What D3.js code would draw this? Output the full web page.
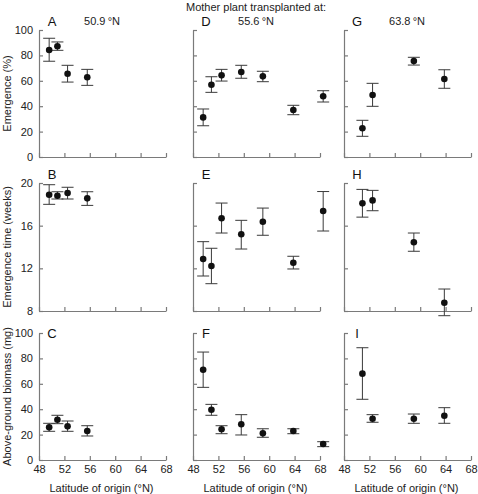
<!DOCTYPE html>
<html><head><meta charset="utf-8">
<script src="https://cdn.jsdelivr.net/npm/d3@7"></script>
<style>body{margin:0;background:#fff}svg{display:block;font-family:"Liberation Sans",Arial,sans-serif}</style>
</head><body><svg id="c" width="478" height="494"></svg>
<script>
// ---- data ----
const latCol1 = [49.6, 50.9, 52.5, 55.6];
const latCol2 = [49.6, 50.9, 52.5, 55.6, 59.0, 63.8, 68.5];
const latCol3 = [50.9, 52.5, 59.0, 63.8];

const xTicks = [48, 52, 56, 60, 64, 68];
const yTicksEmergence = [0, 20, 40, 60, 80, 100];
const yTicksTime = [8, 12, 16, 20];
const yTicksBiomass = [0, 20, 40, 60, 80, 100];

// Emergence (%)
const meanA = [84.3, 87.2, 65.6, 62.8];
const loA   = [75.4, 84.0, 59.0, 56.4];
const hiA   = [93.5, 90.6, 72.2, 69.0];
const meanD = [31.2, 56.9, 64.3, 66.9, 63.5, 37.0, 47.8];
const loD   = [24.6, 50.9, 59.8, 62.0, 59.3, 33.3, 43.3];
const hiD   = [37.8, 63.2, 69.0, 72.2, 67.5, 40.7, 52.2];
const meanG = [22.6, 48.8, 75.6, 61.4];
const loG   = [16.3, 39.9, 72.4, 54.1];
const hiG   = [28.9, 58.0, 78.5, 68.7];

// Emergence time (weeks)
const meanB = [18.9, 18.8, 19.06, 18.56];
const loB   = [18.0, 18.5, 18.5, 17.9];
const hiB   = [19.84, 19.18, 19.6, 19.18];
const meanE = [12.87, 12.22, 16.69, 15.19, 16.37, 12.53, 17.37];
const loE   = [11.28, 10.56, 15.31, 13.81, 15.1, 11.94, 15.5];
const hiE   = [14.5, 13.88, 18.12, 16.5, 17.65, 13.13, 19.2];
const meanH = [18.09, 18.37, 14.44, 8.78];
const loH   = [16.8, 17.4, 13.6, 7.56];
const hiH   = [19.4, 19.31, 15.31, 10.06];

// Above-ground biomass (mg)
const meanC = [25.7, 31.7, 26.5, 22.8];
const loC   = [22.6, 28.6, 22.6, 18.9];
const hiC   = [28.9, 35.2, 30.7, 27.0];
const meanF = [71.1, 39.6, 24.2, 28.1, 21.0, 22.8, 12.6];
const loF   = [57.2, 35.2, 20.7, 19.7, 17.9, 20.7, 10.5];
const hiF   = [85.0, 43.8, 27.0, 35.7, 24.6, 24.6, 14.4];
const meanI = [68.0, 32.5, 32.5, 34.9];
const loI   = [47.8, 29.7, 28.9, 28.9];
const hiI   = [88.4, 35.7, 36.2, 41.2];

const siteLabels = ["50.9\u2009°N", "55.6\u2009°N", "63.8\u2009°N"];
const rowTitles = ["Emergence (%)", "Emergence time (weeks)", "Above-ground biomass (mg)"];
const panelLetters = [["A","D","G"],["B","E","H"],["C","F","I"]];
const header = "Mother plant transplanted at:";
const xTitle = "Latitude of origin (°N)";

// ---- layout ----
const svg = d3.select("#c");
const colX = [39, 193, 344], colW = 127;
const rowY = [30, 183, 333], rowH = [127, 128, 127];
const axisCol = "#7a7a7a", barCol = "#3a3a3a";

const rows = [
  {domain:[0,100], ticks:yTicksEmergence, panels:[[latCol1,meanA,loA,hiA],[latCol2,meanD,loD,hiD],[latCol3,meanG,loG,hiG]]},
  {domain:[8,20], ticks:yTicksTime, panels:[[latCol1,meanB,loB,hiB],[latCol2,meanE,loE,hiE],[latCol3,meanH,loH,hiH]]},
  {domain:[0,100], ticks:yTicksBiomass, panels:[[latCol1,meanC,loC,hiC],[latCol2,meanF,loF,hiF],[latCol3,meanI,loI,hiI]]}
];

rows.forEach((row, r) => {
  row.panels.forEach((p, c) => {
    const x = d3.scaleLinear().domain([48,68]).range([colX[c], colX[c]+colW]);
    const y = d3.scaleLinear().domain(row.domain).range([rowY[r]+rowH[r], rowY[r]]);
    const g = svg.append("g");
    // x axis
    const xa = d3.axisBottom(x).tickValues(xTicks).tickSizeInner(-4).tickSizeOuter(0).tickPadding(5)
      .tickFormat(r === 2 ? d3.format("d") : () => "");
    const gx = g.append("g").attr("transform", `translate(0,${rowY[r]+rowH[r]})`).call(xa);
    // y axis
    const ya = d3.axisLeft(y).tickValues(row.ticks).tickSizeInner(-4).tickSizeOuter(0).tickPadding(6)
      .tickFormat(c === 0 ? d3.format("d") : () => "");
    const gy = g.append("g").attr("transform", `translate(${colX[c]},0)`).call(ya);
    [gx, gy].forEach(a => {
      a.select(".domain").attr("stroke", axisCol).attr("stroke-width", 1.2);
      a.selectAll(".tick line").attr("stroke", axisCol).attr("stroke-width", 1.2);
      a.selectAll(".tick text").attr("fill", "#222").style("font-size", "11px").style("font-family", "Liberation Sans, Arial, sans-serif");
    });
    const [lats, mean, lo, hi] = p;
    const eb = g.append("g").attr("stroke", barCol).attr("stroke-width", 1);
    lats.forEach((lt, i) => {
      const cx = x(lt);
      eb.append("line").attr("x1", cx).attr("x2", cx).attr("y1", y(lo[i])).attr("y2", y(hi[i]));
      eb.append("line").attr("x1", cx-6).attr("x2", cx+6).attr("y1", y(lo[i])).attr("y2", y(lo[i]));
      eb.append("line").attr("x1", cx-6).attr("x2", cx+6).attr("y1", y(hi[i])).attr("y2", y(hi[i]));
    });
    g.selectAll("circle.pt").data(lats).join("circle")
      .attr("cx", d => x(d)).attr("cy", (d,i) => y(mean[i])).attr("r", 3.3).attr("fill", "#111");
    // panel letter
    g.append("text").attr("x", colX[c] + 13).attr("y", rowY[r] - 4 + (r === 2 ? 9 : 0))
      .attr("text-anchor", "middle").style("font-size", "13px").attr("fill", "#111")
      .text(panelLetters[r][c]);
    if (r === 0) {
      g.append("text").attr("x", colX[c] + 63).attr("y", 29 - 4)
        .attr("text-anchor", "middle").style("font-size", "11px").attr("fill", "#222")
        .text(siteLabels[c]);
    }
    if (r === 2) {
      g.append("text").attr("x", colX[c] + colW/2 - 1).attr("y", 492)
        .attr("text-anchor", "middle").style("font-size", "11px").attr("fill", "#222")
        .text(xTitle);
    }
  });
  svg.append("text").attr("transform", `translate(11,${rowY[r] + rowH[r]/2}) rotate(-90)`)
    .attr("text-anchor", "middle").style("font-size", "11px").attr("fill", "#222")
    .text(rowTitles[r]);
});
svg.append("text").attr("x", 256).attr("y", 11).attr("text-anchor", "middle")
  .style("font-size", "11px").attr("fill", "#222").text(header);
</script></body></html>
